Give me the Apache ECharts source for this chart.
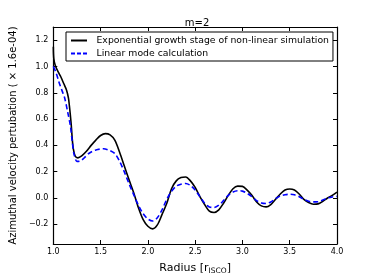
<!DOCTYPE html>
<html>
<head>
<meta charset="utf-8">
<script src="https://cdn.jsdelivr.net/npm/echarts@6/dist/echarts.min.js"></script>
<style>html,body{margin:0;padding:0;background:#fff}#c{width:374px;height:280px}</style>
</head>
<body>
<div id="c"></div>
<script>
// Data
var radiusBlack = [1.00,1.005,1.02,1.05,1.08,1.11,1.14,1.16,1.17,1.18,1.19,1.20,1.21,1.23,1.26,1.30,1.35,1.40,1.45,1.50,1.55,1.60,1.65,1.70,1.75,1.80,1.85,1.90,1.95,2.00,2.05,2.10,2.15,2.20,2.25,2.30,2.35,2.40,2.45,2.50,2.55,2.60,2.65,2.70,2.75,2.80,2.85,2.90,2.95,3.00,3.05,3.10,3.15,3.20,3.25,3.30,3.35,3.40,3.45,3.50,3.55,3.60,3.65,3.70,3.75,3.80,3.85,3.90,3.95,4.00];
var valuesBlack = [1.15,1.06,1.01,0.96,0.92,0.87,0.82,0.76,0.70,0.63,0.55,0.45,0.38,0.32,0.305,0.32,0.355,0.40,0.44,0.475,0.489,0.48,0.44,0.35,0.245,0.14,0.04,-0.075,-0.165,-0.215,-0.235,-0.205,-0.125,-0.04,0.07,0.13,0.155,0.16,0.13,0.08,0.01,-0.05,-0.10,-0.11,-0.09,-0.04,0.02,0.07,0.09,0.088,0.06,0.02,-0.03,-0.06,-0.068,-0.05,-0.01,0.03,0.06,0.068,0.06,0.03,-0.01,-0.035,-0.048,-0.045,-0.025,0.00,0.02,0.044];
var radiusBlue = [1.00,1.03,1.06,1.09,1.12,1.15,1.18,1.20,1.22,1.25,1.28,1.32,1.375,1.45,1.53,1.60,1.65,1.70,1.75,1.80,1.85,1.90,1.95,2.00,2.05,2.10,2.15,2.20,2.25,2.30,2.35,2.40,2.45,2.50,2.55,2.60,2.65,2.70,2.75,2.80,2.85,2.90,2.95,3.00,3.05,3.10,3.15,3.20,3.25,3.30,3.35,3.40,3.45,3.50,3.55,3.60,3.65,3.70,3.75,3.80,3.85,3.90,3.95,4.00];
var valuesBlue = [1.00,0.95,0.88,0.82,0.76,0.66,0.55,0.43,0.33,0.278,0.28,0.30,0.338,0.365,0.374,0.36,0.338,0.28,0.20,0.11,0.025,-0.055,-0.12,-0.16,-0.175,-0.15,-0.09,-0.01,0.05,0.09,0.105,0.11,0.095,0.06,0.01,-0.04,-0.068,-0.072,-0.055,-0.02,0.02,0.045,0.055,0.052,0.035,0.01,-0.02,-0.038,-0.042,-0.03,-0.005,0.015,0.025,0.028,0.024,0.01,-0.01,-0.025,-0.03,-0.028,-0.015,0.00,0.008,0.012];
var yTicks = [-0.2,0.0,0.2,0.4,0.6,0.8,1.0,1.2];
var xTicks = [1.0,1.5,2.0,2.5,3.0,3.5,4.0];
var seriesNames = ['Exponential growth stage of non-linear simulation','Linear mode calculation'];
var titleText = 'm=2';
var xLabel = 'Radius [r{sub|ISCO}]';
var yLabel = 'Azimuthal velocity pertubation ( \u00d7 1.6e-04)';

function pairs(xs, ys){ return xs.map(function(x,i){ return [x, ys[i]]; }); }
function fmt(v){ var s = v.toFixed(1); return v < 0 ? '\u2212' + s.slice(1) : s; }

var FONT = 'DejaVu Sans';
var chart = echarts.init(document.getElementById('c'), null, {renderer:'canvas'});
var tickStyle = {show:true, inside:true, length:4, lineStyle:{color:'#000', width:1}};
var lineStyleAxis = {show:true, onZero:false, lineStyle:{color:'#000', width:1.2}};
var solidIcon = 'path://M0,0H16V2H0Z';
var dashIcon = 'path://M0,0H4V2H0ZM6,0H10V2H6ZM12,0H16V2H12Z';
chart.setOption({
  animation:false,
  backgroundColor:'#fff',
  textStyle:{fontFamily:FONT},
  title:{text:titleText, left:192, textAlign:'center', top:13, textStyle:{fontFamily:FONT, fontSize:10, fontWeight:'normal', color:'#000'}},
  legend:{
    orient:'vertical', left:66, top:32,
    data:[{name:seriesNames[0], icon:solidIcon, itemStyle:{color:'#000'}},
          {name:seriesNames[1], icon:dashIcon, itemStyle:{color:'#0000ff'}}],
    borderColor:'#000', borderWidth:1, borderRadius:0,
    padding:[3,4,2,5], itemGap:2, itemWidth:17, itemHeight:2,
    textStyle:{fontFamily:FONT, fontSize:9.3, color:'#000', padding:[0,0,0,4], lineHeight:11}
  },
  grid:{left:47, right:37, top:27, bottom:28},
  xAxis:[{
    type:'value', min:1, max:4, interval:0.5,
    axisLine:lineStyleAxis, axisTick:tickStyle, splitLine:{show:false},
    axisLabel:{fontSize:8, color:'#000', margin:4, fontFamily:FONT, formatter:fmt, customValues:xTicks},
    name:xLabel, nameLocation:'middle', nameGap:17,
    nameTextStyle:{fontFamily:FONT, fontSize:11, color:'#000', rich:{sub:{fontSize:7.5, fontFamily:FONT, color:'#000', padding:[6,0,0,0]}}}
  },{
    type:'value', position:'top', min:1, max:4, interval:0.5,
    axisLine:lineStyleAxis, axisTick:tickStyle, axisLabel:{show:false}, splitLine:{show:false}
  }],
  yAxis:[{
    type:'value', min:-0.35, max:1.3,
    axisLine:lineStyleAxis, splitLine:{show:false},
    axisTick:{show:true, inside:true, length:4, lineStyle:{color:'#000'}, customValues:yTicks},
    axisLabel:{fontSize:8, color:'#000', margin:5, fontFamily:FONT, formatter:fmt, customValues:yTicks},
    name:yLabel, nameLocation:'middle', nameGap:31,
    nameTextStyle:{fontFamily:FONT, fontSize:10, color:'#000'}
  },{
    type:'value', position:'right', min:-0.35, max:1.3,
    axisLine:lineStyleAxis, splitLine:{show:false},
    axisTick:{show:true, inside:true, length:4, lineStyle:{color:'#000'}, customValues:yTicks},
    axisLabel:{show:false}
  }],
  series:[{
    name:seriesNames[0], type:'line', data:pairs(radiusBlack, valuesBlack),
    showSymbol:false, symbol:'none', smooth:0.3,
    lineStyle:{color:'#000', width:1.6}, itemStyle:{color:'#000'}
  },{
    name:seriesNames[1], type:'line', data:pairs(radiusBlue, valuesBlue),
    showSymbol:false, symbol:'none', smooth:0.3,
    lineStyle:{color:'#0000ff', width:1.6, type:[5,3]}, itemStyle:{color:'#0000ff'}
  }]
});
</script>
</body>
</html>
